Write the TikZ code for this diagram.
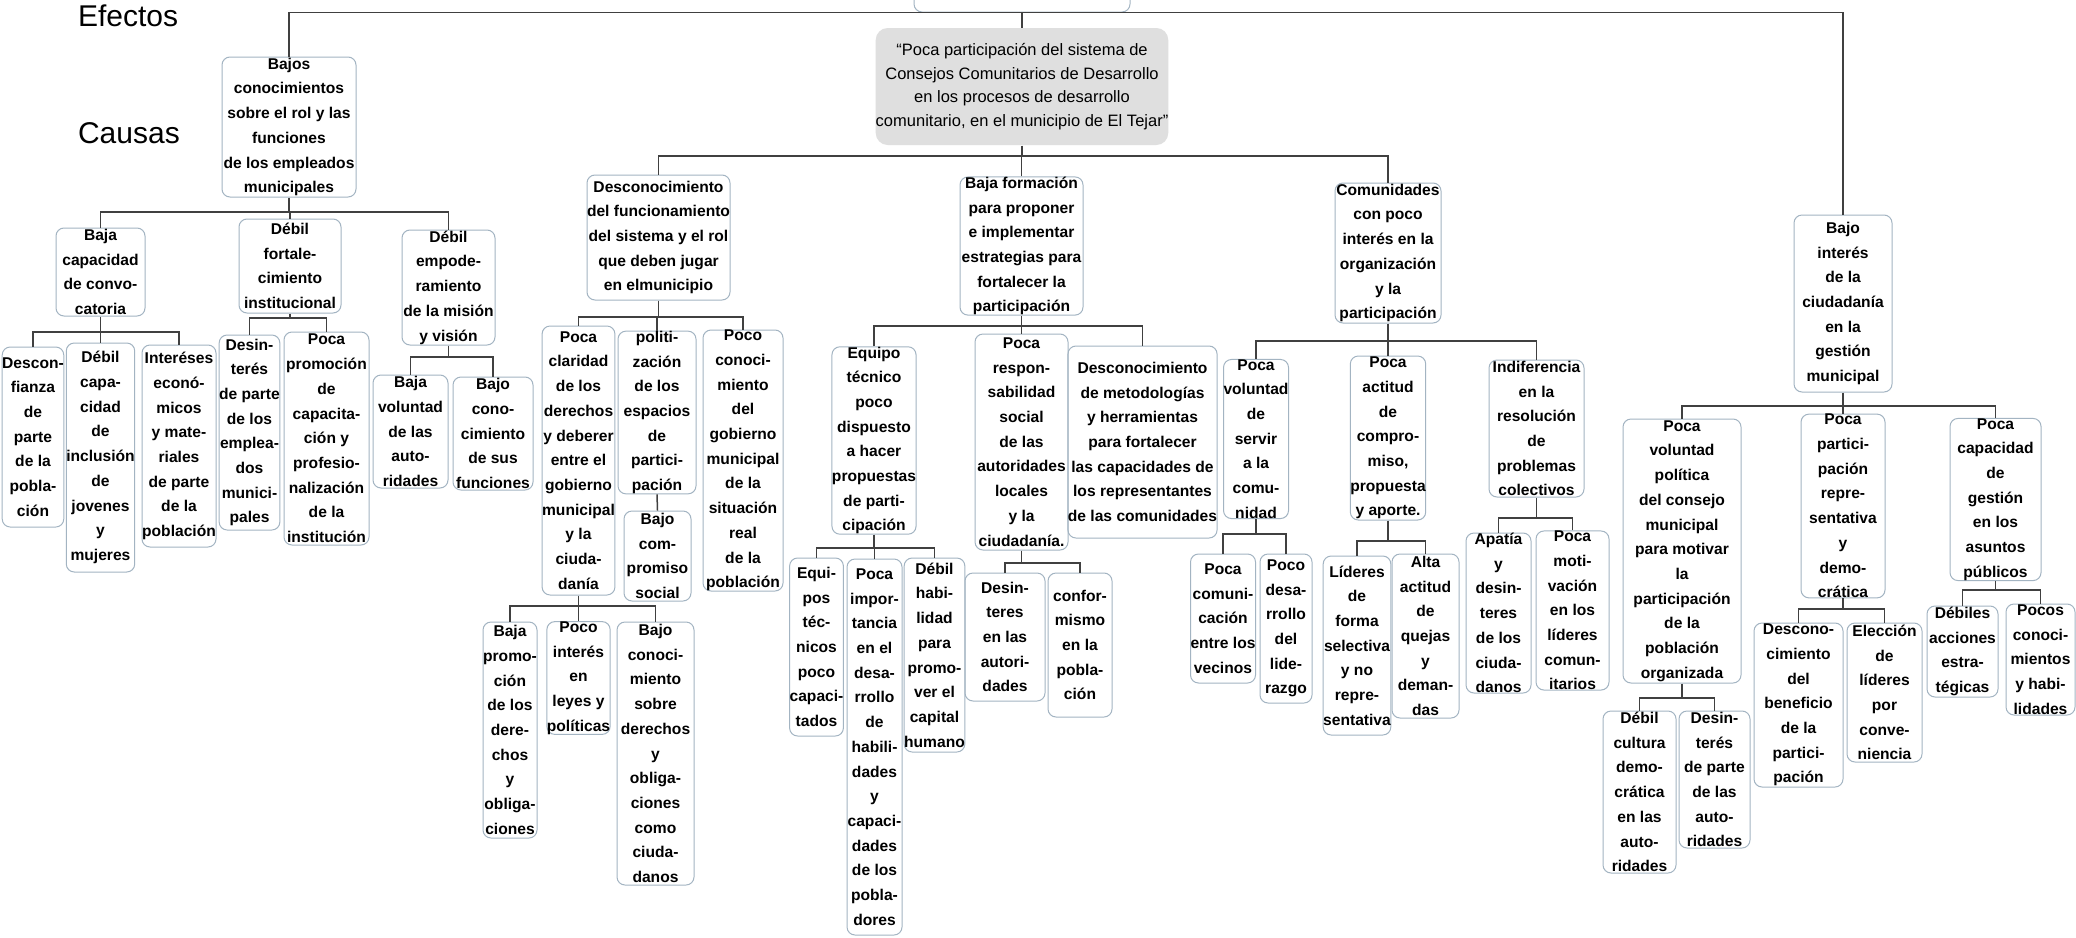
\documentclass[tikz,border=0pt]{standalone}
\usepackage{fontspec}
\setmainfont{Liberation Sans}
\definecolor{borde}{HTML}{A3B4C2}
\definecolor{linea}{HTML}{404040}
\definecolor{gris}{HTML}{DFDFDF}
\tikzset{
  caja/.style={draw=borde, line width=0.5pt, rounded corners=4pt, inner sep=0pt,
    align=center, font=\fontsize{7.8}{12.35}\selectfont\bfseries},
  tam/.style 2 args={minimum width=#1*0.5pt, minimum height=#2*0.5pt},
  rama/.style={draw=linea, line width=0.75pt}
}
\begin{document}
\begin{tikzpicture}[x=0.5pt, y=-0.5pt]
  \useasboundingbox (0,0) rectangle (2076,937);
  \fill[white] (0,0) rectangle (2076,937);

  \node[anchor=base west, font=\fontsize{15}{18}\selectfont] (efectos) at (71,26) {Efectos};
  \node[anchor=base west, font=\fontsize{15}{18}\selectfont] (causas) at (71,143) {Causas};

  % problema central
  \node[caja, tam={216}{60}] (efecto) at (1022,-18) {};
  \node[caja, draw=none, fill=gris, rounded corners=6pt, tam={288}{117},
    font=\fontsize{8.25}{11.75}\selectfont] (core) at (1022,86.5)
    {“Poca participación del sistema de\\Consejos Comunitarios de Desarrollo\\en los procesos de desarrollo\\comunitario, en el municipio de El Tejar"};

  % rama izquierda
  \node[caja, tam={134}{140}] (bjc) at (289,127) {Bajos\\conocimientos\\sobre el rol y las\\funciones\\de los empleados\\municipales};
  \node[caja, tam={89}{88}] (bcc) at (100.5,272) {Baja\\capacidad\\de convo-\\catoria};
  \node[caja, tam={102}{94}] (dfi) at (290,266) {Débil\\fortale-\\cimiento\\institucional};
  \node[caja, tam={93}{115}] (dem) at (448.5,287.5) {Débil\\empode-\\ramiento\\de la misión\\y visión};
  \node[caja, tam={58}{180}] (dpp) at (33,437) {Descon-\\fianza\\de\\parte\\de la\\pobla-\\ción};
  \node[caja, tam={67}{229}] (dci) at (100.5,457.5) {Débil\\capa-\\cidad\\de\\inclusión\\de\\jovenes\\y\\mujeres};
  \node[caja, tam={74}{202}] (iem) at (179,446) {Interéses\\econó-\\micos\\y mate-\\riales\\de parte\\de la\\población};
  \node[caja, tam={55}{195}] (dte) at (249.5,432.5) {Desin-\\terés\\de parte\\de los\\emplea-\\dos\\munici-\\pales};
  \node[caja, tam={85}{213}] (ppc) at (326.5,438.5) {Poca\\promoción\\de\\capacita-\\ción y\\profesio-\\nalización\\de la\\institución};
  \node[caja, tam={75}{113}] (bva) at (410.5,431.5) {Baja\\voluntad\\de las\\auto-\\ridades};
  \node[caja, tam={80}{113}] (bcf) at (493,433.5) {Bajo\\cono-\\cimiento\\de sus\\funciones};

  % desconocimiento del funcionamiento
  \node[caja, tam={139}{125}] (dfs) at (658.5,237.5) {Desconocimiento\\del funcionamiento\\del sistema y el rol\\que deben jugar\\en elmunicipio};
  \node[caja, tam={67}{269}] (pcd) at (578.5,460.5) {Poca\\claridad\\de los\\derechos\\y deberer\\entre el\\gobierno\\municipal\\y la\\ciuda-\\danía};
  \node[caja, tam={78}{161}] (pol) at (657,412.5) {politi-\\zación\\de los\\espacios\\de\\partici-\\pación};
  \node[caja, tam={67}{90}] (bcs) at (657.5,556) {Bajo\\com-\\promiso\\social};
  \node[caja, tam={80}{261}] (pcg) at (743,460.5) {Poco\\conoci-\\miento\\del\\gobierno\\municipal\\de la\\situación\\real\\de la\\población};
  \node[caja, tam={54}{216}] (bpd) at (510,730) {Baja\\promo-\\ción\\de los\\dere-\\chos\\y\\obliga-\\ciones};
  \node[caja, tam={63}{110}] (pil) at (578.5,678) {Poco\\interés\\en\\leyes y\\políticas};
  \node[caja, tam={77}{263}] (bco) at (655.5,753.5) {Bajo\\conoci-\\miento\\sobre\\derechos\\y\\obliga-\\ciones\\como\\ciuda-\\danos};

  % baja formacion
  \node[caja, tam={123}{136}] (bfp) at (1021.5,246) {Baja formación\\para proponer\\e implementar\\estrategias para\\fortalecer la\\participación};
  \node[caja, tam={82}{183}] (etp) at (874,440.5) {Equipo\\técnico\\poco\\dispuesto\\a hacer\\propuestas\\de parti-\\cipación};
  \node[caja, tam={93}{216}] (prs) at (1021.5,442) {Poca\\respon-\\sabilidad\\social\\de las\\autoridades\\locales\\y la\\ciudadanía.};
  \node[caja, tam={139}{192}] (dmh) at (1142.5,442) {Desconocimiento\\de metodologías\\y herramientas\\para fortalecer\\las capacidades de\\los representantes\\de las comunidades};
  \node[caja, tam={51}{178}] (etc) at (816.5,647) {Equi-\\pos\\téc-\\nicos\\poco\\capaci-\\tados};
  \node[caja, tam={55}{376}] (pih) at (874.5,747) {Poca\\impor-\\tancia\\en el\\desa-\\rrollo\\de\\habili-\\dades\\y\\capaci-\\dades\\de los\\pobla-\\dores};
  \node[caja, tam={59}{194}] (dhp) at (934.5,655) {Débil\\habi-\\lidad\\para\\promo-\\ver el\\capital\\humano};
  \node[caja, tam={80}{128}] (dea) at (1005,637) {Desin-\\teres\\en las\\autori-\\dades};
  \node[caja, tam={64}{144}] (cep) at (1080,645) {confor-\\mismo\\en la\\pobla-\\ción};

  % comunidades
  \node[caja, tam={106}{140}] (cpi) at (1388,253) {Comunidades\\con poco\\interés en la\\organización\\y la\\participación};
  \node[caja, tam={60}{158}] (pvs) at (1256,439) {Poca\\voluntad\\de\\servir\\a la\\comu-\\nidad};
  \node[caja, tam={74}{164}] (pac) at (1388,438) {Poca\\actitud\\de\\compro-\\miso,\\propuesta\\y aporte.};
  \node[caja, tam={95}{137}] (irp) at (1536.5,428.5) {Indiferencia\\en la\\resolución\\de\\problemas\\colectivos};
  \node[caja, tam={58}{129}] (pcv) at (1223,618.5) {Poca\\comuni-\\cación\\entre los\\vecinos};
  \node[caja, tam={52}{149}] (pdl) at (1286,628.5) {Poco\\desa-\\rrollo\\del\\lide-\\razgo};
  \node[caja, tam={60}{179}] (lfs) at (1357,645.5) {Líderes\\de\\forma\\selectiva\\y no\\repre-\\sentativa};
  \node[caja, tam={67}{164}] (aaq) at (1425.5,636) {Alta\\actitud\\de\\quejas\\y\\deman-\\das};
  \node[caja, tam={65}{160}] (apd) at (1498.5,613) {Apatía\\y\\desin-\\teres\\de los\\ciuda-\\danos};
  \node[caja, tam={73}{157}] (pml) at (1572.5,610.5) {Poca\\moti-\\vación\\en los\\líderes\\comun-\\itarios};

  % rama derecha
  \node[caja, tam={98}{177}] (bic) at (1843,303.5) {Bajo\\interés\\de la\\ciudadanía\\en la\\gestión\\municipal};
  \node[caja, tam={118}{264}] (pvp) at (1682,551) {Poca\\voluntad\\política\\del consejo\\municipal\\para motivar\\la\\participación\\de la\\población\\organizada};
  \node[caja, tam={84}{182}] (ppr) at (1843,506) {Poca\\partici-\\pación\\repre-\\sentativa\\y\\demo-\\crática};
  \node[caja, tam={91}{161}] (pcgp) at (1995.5,499.5) {Poca\\capacidad\\de\\gestión\\en los\\asuntos\\públicos};
  \node[caja, tam={73}{162}] (dcd) at (1639.5,792) {Débil\\cultura\\demo-\\crática\\en las\\auto-\\ridades};
  \node[caja, tam={71}{137}] (dpa) at (1714.5,779.5) {Desin-\\terés\\de parte\\de las\\auto-\\ridades};
  \node[caja, tam={89}{164}] (dbp) at (1798.5,705) {Descono-\\cimiento\\del\\beneficio\\de la\\partici-\\pación};
  \node[caja, tam={75}{139}] (elc) at (1884.5,692.5) {Elección\\de\\líderes\\por\\conve-\\niencia};
  \node[caja, tam={71}{91}] (dae) at (1962.5,651.5) {Débiles\\acciones\\estra-\\tégicas};
  \node[caja, tam={69}{111}] (pch) at (2040.5,659.5) {Pocos\\conoci-\\mientos\\y habi-\\lidades};

  % conectores
  \draw[rama] (bjc.north) -- (bjc.north |- efecto.south) -| (bic.north);
  \draw[rama] (efecto.south) -- (core.north);
  \draw[rama] (pol.south) -- (bcs.north);
  \foreach \p/\y/\hijos in {core/156/{dfs,bfp,cpi}, bjc/212/{bcc,dfi,dem},
      bcc/332/{dpp,dci,iem}, dfi/318/{dte,ppc}, dem/357/{bva,bcf},
      dfs/317/{pcd,pol,pcg}, pcd/606/{bpd,pil,bco},
      bfp/326/{etp,prs,dmh}, etp/548/{etc,pih,dhp}, prs/563/{dea,cep},
      cpi/341/{pvs,pac,irp}, pvs/534/{pcv,pdl}, pac/541/{lfs,aaq}, irp/518/{apd,pml},
      bic/406/{pvp,ppr,pcgp}, pvp/698/{dcd,dpa}, ppr/609/{dbp,elc}, pcgp/590/{dae,pch}}
  {
    \draw[rama] (\p.south) -- (\p.south |- 0,\y);
    \foreach \h in \hijos
      \draw[rama] (\h.north) |- (\p.south |- 0,\y);
  }
\end{tikzpicture}
\end{document}
